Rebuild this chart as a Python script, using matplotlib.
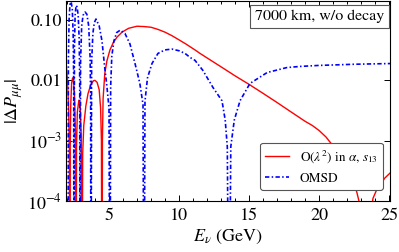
import matplotlib
matplotlib.use("Agg")
import matplotlib.pyplot as plt
from matplotlib.ticker import FixedLocator, MultipleLocator, NullLocator

plt.rcParams['font.family'] = ['STIXGeneral', 'DejaVu Serif']
plt.rcParams['mathtext.fontset'] = 'stix'

# O(lambda^2) in alpha, s13  (zeros drawn as 1e-7, below the axis)
red_E = [1.93, 2.05, 2.12, 2.17, 2.2,
         2.23, 2.27, 2.33, 2.4, 2.48, 2.55, 2.6, 2.64,
         2.68, 2.74, 2.85, 2.95, 3.02, 3.07,
         3.12, 3.2, 3.35, 3.5, 3.7, 3.9, 4.0, 4.15, 4.3, 4.4, 4.46, 4.5,
         4.53, 4.58, 4.7, 4.85, 5.07, 5.3, 5.57, 5.93, 6.4, 7.0, 7.5, 8.0,
         8.5, 9.0, 9.5, 10.0, 10.5, 11.14, 11.5, 12.0, 13.0, 14.0, 15.0,
         16.0, 17.0, 18.0, 19.0, 19.5, 20.0, 20.5, 21.0, 21.5, 22.0, 22.4,
         22.7, 22.9, 23.05,
         23.72, 23.78, 23.85, 24.1, 24.4, 24.7, 25.07]
red_P = [0.021, 0.009, 0.003, 0.0007, 1e-7,
         0.0008, 0.004, 0.009, 0.011, 0.009, 0.005, 0.0015, 1e-7,
         0.0008, 0.003, 0.0047, 0.0035, 0.0012, 1e-7,
         0.0006, 0.0018, 0.0038, 0.006, 0.0085, 0.0099, 0.0100, 0.0093,
         0.007, 0.0035, 0.001, 1e-7,
         0.001, 0.005, 0.013, 0.021, 0.032, 0.042, 0.052, 0.063, 0.073,
         0.079, 0.078, 0.076, 0.07, 0.063, 0.055, 0.047, 0.04, 0.032,
         0.028, 0.0236, 0.0168, 0.0119, 0.0086, 0.0061, 0.0043, 0.003,
         0.0021, 0.0018, 0.00148, 0.00115, 0.00082, 0.00057, 0.00037,
         0.00023, 0.00014, 0.00009, 1e-7,
         1e-7, 0.00008, 0.00011, 0.00015, 0.00019, 0.00024, 0.00029]

# OMSD
blue_E = [2.07, 2.1, 2.15, 2.22, 2.3, 2.38, 2.44, 2.48, 2.5,
          2.53, 2.58, 2.65, 2.72, 2.8, 2.87, 2.91, 2.93,
          2.97, 3.05, 3.15, 3.29, 3.42, 3.55, 3.65, 3.69, 3.71,
          3.76, 3.85, 3.95, 4.07, 4.3, 4.5, 4.7, 4.85, 5.0, 5.07,
          5.12, 5.2, 5.35, 5.55, 5.8, 6.14, 6.5, 6.86, 7.2, 7.43, 7.5,
          7.57, 7.75, 8.07, 8.5, 9.0, 9.5, 10.0, 10.43, 10.79, 11.14,
          11.7, 12.43, 13.07, 13.3, 13.45, 13.57,
          13.7, 13.95, 14.36, 15.07, 16.3, 17.7, 18.6, 20.0, 21.0, 22.5,
          24.0, 25.07]
blue_P = [1e-7, 0.02, 0.1, 0.19, 0.2, 0.15, 0.06, 0.01, 1e-7,
          0.03, 0.12, 0.175, 0.165, 0.12, 0.05, 0.01, 1e-7,
          0.02, 0.08, 0.12, 0.136, 0.125, 0.08, 0.025, 0.005, 1e-7,
          0.02, 0.06, 0.09, 0.104, 0.08, 0.045, 0.016, 0.008, 0.0035, 1e-7,
          0.008, 0.025, 0.045, 0.062, 0.068, 0.06, 0.04, 0.019, 0.009,
          0.004, 1e-7,
          0.0045, 0.011, 0.019, 0.028, 0.032, 0.033, 0.031, 0.028, 0.024,
          0.0215, 0.0147, 0.0076, 0.0046, 0.0022, 0.0008, 1e-7,
          0.0008, 0.0022, 0.0046, 0.0089, 0.0135, 0.0163, 0.017, 0.0177,
          0.018, 0.0185, 0.0188, 0.019]

y_ticks = [1e-4, 1e-3, 1e-2, 1e-1]
y_labels = [r'$10^{-4}$', r'$10^{-3}$', '0.01', '0.10']

fig = plt.figure(figsize=(3.99, 2.52), dpi=100)
ax = fig.add_axes([66 / 399, 51 / 252, 324 / 399, 200 / 252])

ax.plot(red_E, red_P, color='#ff0000', lw=1.0,
        label=r'O($\lambda^2$) in $\alpha$, $s_{13}$')
ax.plot(blue_E, blue_P, color='#0000ff', lw=1.2,
        linestyle=(0, (2.6, 1.4, 0.9, 1.4)), label='OMSD')

ax.set_yscale('log')
ax.set_xlim(1.93, 25.07)
ax.set_ylim(1e-4, 0.207)

ax.xaxis.set_major_locator(FixedLocator([5, 10, 15, 20, 25]))
ax.xaxis.set_minor_locator(MultipleLocator(1))
ax.yaxis.set_major_locator(FixedLocator(y_ticks))
ax.set_yticklabels(y_labels)
ax.yaxis.set_minor_locator(NullLocator())

ax.tick_params(which='both', direction='in', top=True, right=True,
               labelsize=13, width=0.7)
ax.tick_params(which='major', length=4)
ax.tick_params(axis='x', which='major', pad=5)
ax.tick_params(axis='y', which='major', pad=3)
ax.tick_params(which='minor', length=2)
for s in ax.spines.values():
    s.set_linewidth(0.8)

ax.set_xlabel(r'$E_\nu$ (GeV)', fontsize=13, labelpad=3)
ax.set_ylabel(r'$|\Delta P_{\mu\mu}|$', fontsize=13, labelpad=1)

ax.text(0.983, 0.955, '7000 km, w/o decay', transform=ax.transAxes,
        ha='right', va='top', fontsize=11.5,
        bbox=dict(boxstyle='square,pad=0.3', fc='white', ec='#555555', lw=0.8))

leg = ax.legend(loc='lower right', bbox_to_anchor=(0.978, 0.055),
                borderaxespad=0, fontsize=9.5, handlelength=1.8,
                labelspacing=0.6, fancybox=True, framealpha=1,
                edgecolor='#555555')
leg.get_frame().set_linewidth(0.8)

fig.savefig('out.png', dpi=100)
